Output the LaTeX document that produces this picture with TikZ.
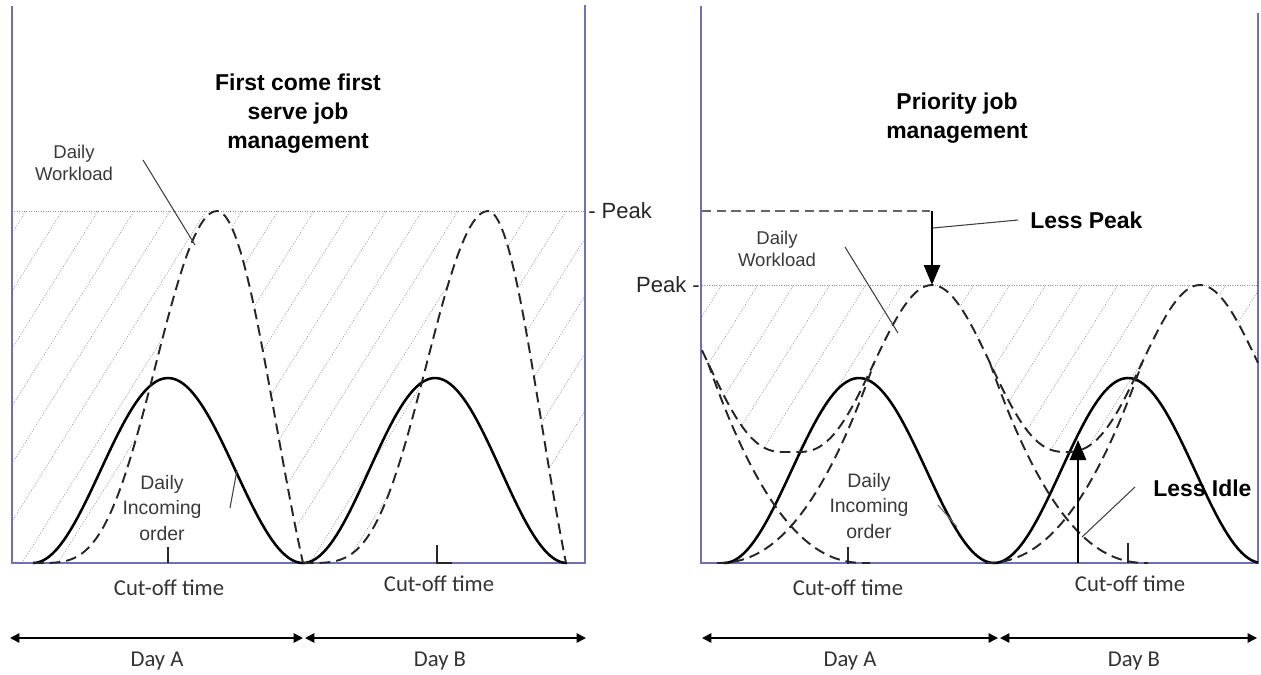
\documentclass[tikz,border=0pt]{standalone}
\usepackage{fontspec}
\setmainfont{Liberation Sans}
\newfontfamily\calib{Carlito}
\usetikzlibrary{arrows.meta}

\definecolor{axisblue}{RGB}{112,112,182}
\definecolor{txtgray}{RGB}{58,58,58}

% workload shapes (heights in px units)
\pgfmathdeclarefunction{lrise}{1}{\pgfmathparse{352*(0.5-0.5*cos(180*#1))*(0.5-0.5*cos(180*#1))}}
\pgfmathdeclarefunction{lfall}{1}{\pgfmathparse{352*sin(90*#1)*(0.7+0.3*sin(90*#1))}}
% smoothed workload: u = distance from the nearest peak (0..134)
\pgfmathdeclarefunction{wlc}{1}{\pgfmathparse{0.5+0.5*cos(180*(min(#1,134)/134))}}
\pgfmathdeclarefunction{wlh}{1}{\pgfmathparse{111+167*wlc(#1)*sqrt(sqrt(wlc(#1)))}}
% single-day workload tail, leaving the smoothed curve at u = 58
\pgfmathdeclarefunction{dayw}{1}{\pgfmathparse{max(0,1-(#1-58)/157)}}
\pgfmathdeclarefunction{dayh}{1}{\pgfmathparse{200*dayw(#1)*dayw(#1)*sqrt(sqrt(dayw(#1)))}}
% incoming order bump: start, width, position
\pgfmathdeclarefunction{inh}{3}{\pgfmathparse{185*(0.5-0.5*cos(((#3-#1)/#2)*360))}}

\begin{document}
\begin{tikzpicture}[x=0.75pt, y=-0.75pt,
  axis/.style={draw=axisblue, line width=1.3pt},
  incoming/.style={draw=black, line width=1.9pt},
  workload/.style={draw=black!85, line width=1.45pt, dash pattern=on 8pt off 4.5pt},
  hatchline/.style={draw=gray!80, line width=0.5pt, dash pattern=on 0.8pt off 1.2pt},
  peakline/.style={draw=gray!85, line width=0.6pt, dash pattern=on 0.8pt off 1pt},
  oldpeak/.style={draw=black!60, line width=1.4pt, dash pattern=on 7pt off 4pt},
  leader/.style={draw=black!75, line width=0.8pt},
  bigarrow/.style={draw=black, line width=2.2pt, -{Triangle[width=12pt,length=15pt]}},
  dayarrow/.style={draw=black, line width=1.2pt, {Triangle[width=7pt,length=7pt]}-{Triangle[width=7pt,length=7pt]}},
  cutmark/.style={draw=black!85, line width=1pt},
  headline/.style={font=\bfseries\fontsize{17.2}{21.8}\selectfont, align=center, inner sep=0pt},
  boldlbl/.style={font=\bfseries\fontsize{17.2}{20}\selectfont, inner sep=0pt},
  wlbl/.style={font=\fontsize{13.9}{16.5}\selectfont, text=txtgray, align=center, inner sep=0pt},
  inlbl/.style={font=\fontsize{14.6}{18.8}\selectfont, text=txtgray, align=center, inner sep=0pt},
  peaklbl/.style={font=\fontsize{16.5}{19}\selectfont, text=black!85, inner sep=0pt},
  cutlbl/.style={font=\calib\fontsize{17}{20}\selectfont, text=black!80, inner sep=0pt}]

\useasboundingbox (0,0) rectangle (1261,675);

%% ================= left panel: first come first serve =================
% idle capacity hatching above the workload curve
\begin{scope}
  \clip (12,211) -- (12,563) -- (33,563)
    -- plot[domain=0:1, samples=40] ({33+184*\x},{563-lrise(\x)})
    -- plot[domain=1:0, samples=30] ({303-86*\x},{563-lfall(\x)})
    -- plot[domain=0:1, samples=40] ({303+185*\x},{563-lrise(\x)})
    -- plot[domain=1:0, samples=30] ({566-78*\x},{563-lfall(\x)})
    -- (585,563) -- (585,211) -- cycle;
  \foreach \k in {-8,...,20} \draw[hatchline] ({-230+36*\k},563) -- ++(220,-352);
\end{scope}

\coordinate (pkAl) at (12,211);
\coordinate (pkAr) at (585,211);
\draw[peakline] (pkAl) -- (pkAr);

% axes
\coordinate (axA0) at (12,6);
\coordinate (axA1) at (12,563);
\coordinate (axA2) at (585,563);
\coordinate (axA3) at (585,5);
\draw[axis] (axA0) -- (axA1) -- (axA2) -- (axA3);

% daily incoming orders
\draw[incoming] plot[domain=33:303, samples=80] (\x,{563-inh(33,270,\x)});
\draw[incoming] plot[domain=303:567, samples=80] (\x,{563-inh(303,264,\x)});

% daily workload
\draw[workload] plot[domain=0:1, samples=50] ({33+184*\x},{563-lrise(\x)})
  -- plot[domain=1:0, samples=30] ({303-86*\x},{563-lfall(\x)});
\draw[workload] plot[domain=0:1, samples=50] ({303+185*\x},{563-lrise(\x)})
  -- plot[domain=1:0, samples=30] ({566-78*\x},{563-lfall(\x)});

% cut-off marks
\coordinate (coA0) at (168,547);
\coordinate (coA1) at (168,563);
\draw[cutmark] (coA0) -- (coA1);
\coordinate (coB0) at (437,545);
\coordinate (coB1) at (437,563);
\coordinate (coB2) at (452,563);
\draw[cutmark] (coB0) -- (coB1) -- (coB2);

% labels
\node[headline] (ttlA) at (298,114) {First come first\\serve job\\management};
\node[wlbl] (wlA) at (74,163) {Daily\\Workload};
\node[inlbl] (inA) at (162,508) {Daily\\Incoming\\order};
\node[peaklbl, anchor=west] (pkAlbl) at (588,211) {- Peak};

\coordinate (wlAs) at (143,160);
\coordinate (wlAe) at (195,245);
\draw[leader] (wlAs) -- (wlAe);
\coordinate (inAs) at (230,508);
\coordinate (inAe) at (237,470);
\draw[leader] (inAs) -- (inAe);

\node[cutlbl] (cutA1) at (169,588) {Cut-off time};
\node[cutlbl] (cutA2) at (439,584) {Cut-off time};

\coordinate (dayA0) at (10,638);
\coordinate (dayA1) at (303,638);
\coordinate (dayA2) at (305,638);
\coordinate (dayA3) at (586,638);
\draw[dayarrow] (dayA0) -- (dayA1);
\draw[dayarrow] (dayA2) -- (dayA3);
\node[cutlbl] (dA) at (157,661) {Day A};
\node[cutlbl] (dB) at (440,661) {Day B};

%% ================= right panel: priority job management =================
\begin{scope}
  \clip (702,285) -- (702,{563-wlh(52)})
    -- plot[domain=702:791, samples=30] (\x,{563-wlh(\x-650)})
    -- plot[domain=791:932, samples=40] (\x,{563-wlh(932-\x)})
    -- plot[domain=932:1066, samples=40] (\x,{563-wlh(\x-932)})
    -- plot[domain=1066:1200, samples=40] (\x,{563-wlh(1200-\x)})
    -- plot[domain=1200:1258, samples=20] (\x,{563-wlh(\x-1200)})
    -- (1258,285) -- cycle;
  \foreach \k in {-2,...,22} \draw[hatchline] ({440+36*\k},563) -- ++(220,-352);
\end{scope}

\coordinate (pkBl) at (702,285);
\coordinate (pkBr) at (1258,285);
\draw[peakline] (pkBl) -- (pkBr);
\coordinate (opl) at (702,211);
\coordinate (opr) at (930,211);
\draw[oldpeak] (opl) -- (opr);

% axes
\coordinate (axB0) at (701,6);
\coordinate (axB1) at (701,563);
\coordinate (axB2) at (1258,563);
\coordinate (axB3) at (1258,13);
\draw[axis] (axB0) -- (axB1) -- (axB2) -- (axB3);

% daily incoming orders
\draw[incoming] plot[domain=724:994, samples=80] (\x,{563-inh(724,270,\x)});
\draw[incoming] plot[domain=994:1258, samples=80] (\x,{563-inh(994,268,\x)});

% smoothed workload and the single-day workloads it is made of
\draw[workload] plot[domain=702:791, samples=30] (\x,{563-wlh(\x-650)})
  -- plot[domain=791:932, samples=40] (\x,{563-wlh(932-\x)})
  -- plot[domain=932:1066, samples=40] (\x,{563-wlh(\x-932)})
  -- plot[domain=1066:1200, samples=40] (\x,{563-wlh(1200-\x)})
  -- plot[domain=1200:1258, samples=20] (\x,{563-wlh(\x-1200)});
\draw[workload] plot[domain=708:870, samples=40] (\x,{563-dayh(\x-650)});
\draw[workload] plot[domain=717:874, samples=40] (\x,{563-dayh(932-\x)});
\draw[workload] plot[domain=990:1148, samples=40] (\x,{563-dayh(\x-932)});
\draw[workload] plot[domain=985:1142, samples=40] (\x,{563-dayh(1200-\x)});

% cut-off marks
\coordinate (coC0) at (848,547);
\coordinate (coC1) at (848,564);
\draw[cutmark] (coC0) -- (coC1);
\coordinate (coD0) at (1128,543);
\coordinate (coD1) at (1128,563);
\draw[cutmark] (coD0) -- (coD1);

% peak reduction and idle reduction
\coordinate (lpTop) at (932,211);
\coordinate (lpTip) at (932,285);
\draw[bigarrow] (lpTop) -- (lpTip);
\coordinate (liBot) at (1078,563);
\coordinate (liTip) at (1078,440);
\draw[bigarrow] (liBot) -- (liTip);

\node[headline] (ttlB) at (957,118) {Priority job\\management};
\node[boldlbl, anchor=west] (lp) at (1030,220) {Less Peak};
\node[boldlbl, anchor=west] (li) at (1153,488) {Less Idle};
\node[wlbl] (wlB) at (777,249) {Daily\\Workload};
\node[inlbl] (inB) at (869,506) {Daily\\Incoming\\order};
\node[peaklbl, anchor=east] (pkBlbl) at (700,285) {Peak -};

\coordinate (lpS) at (933,228);
\coordinate (lpE) at (1018,220);
\draw[leader] (lpS) -- (lpE);
\coordinate (liS) at (1082,537);
\coordinate (liE) at (1135,487);
\draw[leader] (liS) -- (liE);
\coordinate (wlBs) at (845,247);
\coordinate (wlBe) at (898,333);
\draw[leader] (wlBs) -- (wlBe);
\coordinate (inBs) at (938,505);
\coordinate (inBe) at (957,527);
\draw[leader, draw=black!55] (inBs) -- (inBe);

\node[cutlbl] (cutB1) at (848,588) {Cut-off time};
\node[cutlbl] (cutB2) at (1130,584) {Cut-off time};

\coordinate (dayB0) at (702,638);
\coordinate (dayB1) at (998,638);
\coordinate (dayB2) at (1000,638);
\coordinate (dayB3) at (1257,638);
\draw[dayarrow] (dayB0) -- (dayB1);
\draw[dayarrow] (dayB2) -- (dayB3);
\node[cutlbl] (dC) at (850,661) {Day A};
\node[cutlbl] (dD) at (1134,661) {Day B};

\end{tikzpicture}
\end{document}
